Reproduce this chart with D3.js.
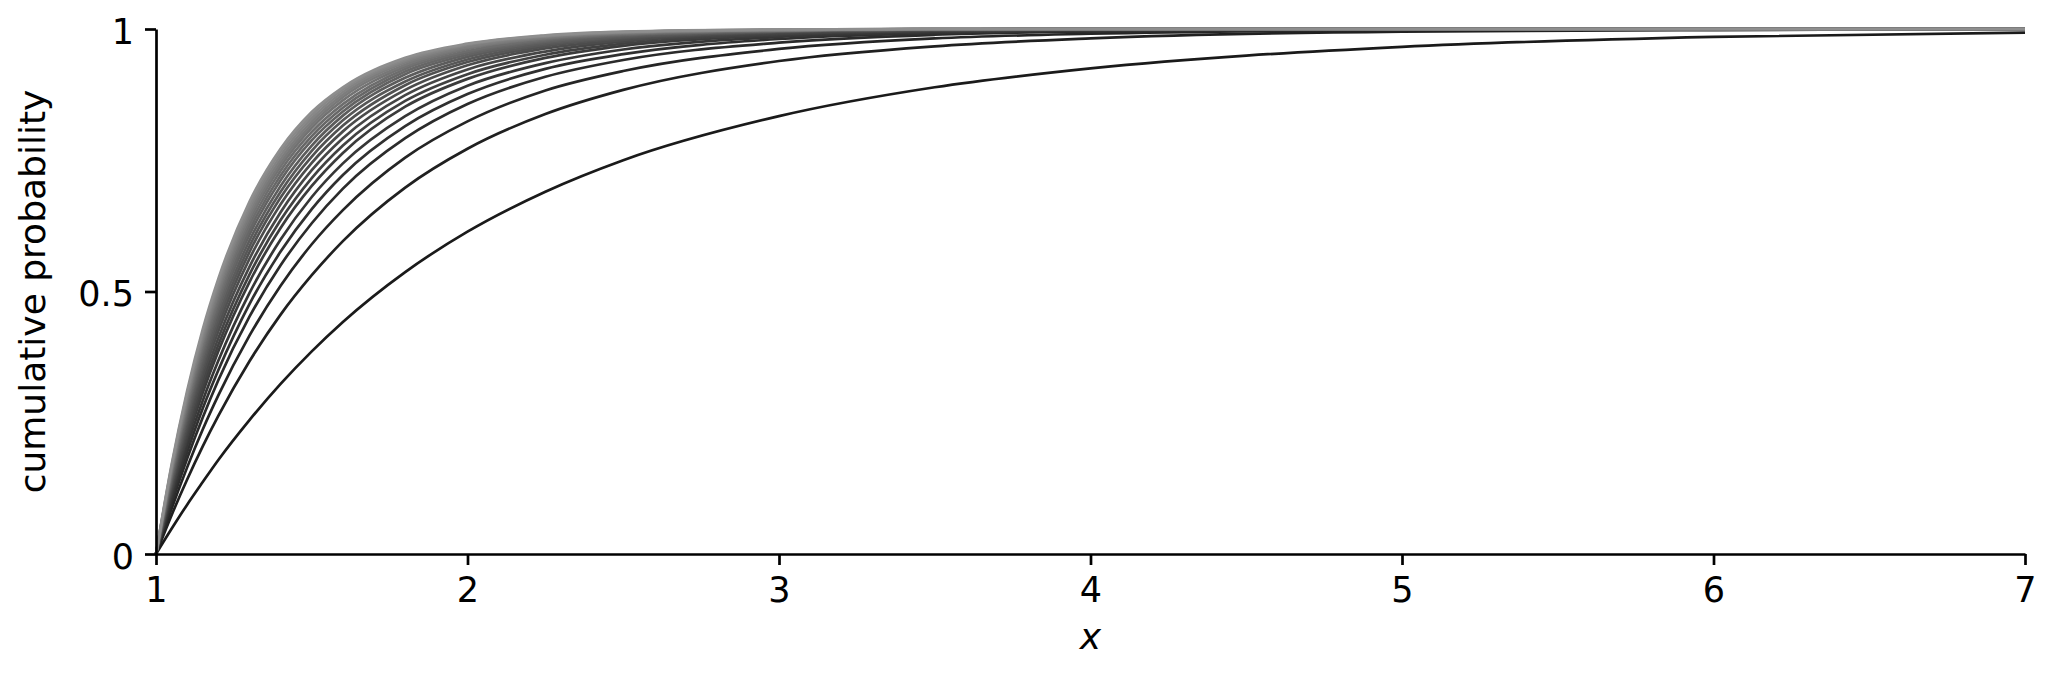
<!DOCTYPE html>
<html>
<head>
<meta charset="utf-8">
<script src="https://cdn.jsdelivr.net/npm/d3@7/dist/d3.min.js"></script>
<style>
  body { margin: 0; background: #fff; }
  text { font-family: "DejaVu Sans", sans-serif; }
</style>
</head>
<body>
<svg id="chart" width="2052" height="673"></svg>
<script>
const xs= [1, 1.05, 1.1, 1.15, 1.2, 1.3, 1.4, 1.5, 1.6, 1.8, 2, 2.25, 2.5, 3, 3.5, 4, 5, 6, 7];

// cumulative probability per curve, darkest (slowest) first
const curves= [
  [0, .048, .094, .137, .179, .255, .324, .386, .442, .537, .614, .690, .750, .834, .889, .925, .966, .985, .993],
  [0, .074, .142, .205, .263, .367, .456, .531, .596, .698, .772, .838, .884, .939, .967, .982, .995, .998, 1],
  [0, .086, .165, .237, .302, .416, .511, .590, .655, .755, .824, .883, .920, .962, .982, .991, .998, 1, 1],
  [0, .096, .182, .260, .331, .452, .550, .630, .696, .792, .857, .909, .941, .974, .989, .995, .999, 1, 1],
  [0, .102, .194, .277, .350, .476, .576, .657, .722, .815, .876, .924, .952, .981, .992, .997, .999, 1, 1],
  [0, .109, .206, .292, .368, .497, .599, .680, .744, .834, .892, .935, .961, .985, .994, .998, 1, 1, 1],
  [0, .115, .217, .307, .386, .518, .621, .701, .764, .852, .905, .945, .968, .988, .996, .998, 1, 1, 1],
  [0, .119, .224, .317, .398, .532, .636, .716, .778, .863, .914, .951, .972, .990, .997, .999, 1, 1, 1],
  [0, .124, .233, .328, .411, .547, .651, .731, .792, .874, .923, .957, .976, .992, .997, .999, 1, 1, 1],
  [0, .129, .241, .339, .424, .562, .666, .745, .805, .884, .931, .963, .979, .994, .998, 1, 1, 1, 1],
  [0, .133, .249, .349, .435, .575, .679, .757, .816, .893, .937, .967, .982, .995, .999, 1, 1, 1, 1],
  [0, .137, .256, .358, .445, .586, .690, .768, .826, .900, .942, .970, .984, .995, .999, 1, 1, 1, 1],
  [0, .141, .262, .366, .455, .597, .701, .778, .835, .907, .947, .973, .986, .996, .999, 1, 1, 1, 1],
  [0, .145, .269, .375, .465, .608, .712, .788, .843, .914, .951, .976, .988, .996, .999, 1, 1, 1, 1],
  [0, .148, .275, .382, .473, .617, .721, .796, .850, .919, .955, .978, .989, .997, 1, 1, 1, 1, 1],
  [0, .152, .280, .390, .482, .626, .730, .804, .857, .924, .958, .980, .990, .997, 1, 1, 1, 1, 1],
  [0, .155, .286, .397, .490, .635, .738, .812, .864, .928, .962, .982, .991, .998, 1, 1, 1, 1, 1],
  [0, .158, .291, .403, .497, .642, .745, .818, .870, .932, .964, .983, .992, .998, 1, 1, 1, 1, 1],
  [0, .161, .296, .409, .504, .650, .752, .824, .875, .936, .966, .985, .993, .998, 1, 1, 1, 1, 1],
  [0, .164, .301, .416, .511, .657, .759, .830, .880, .939, .969, .986, .994, .998, 1, 1, 1, 1, 1],
  [0, .167, .306, .422, .518, .664, .766, .836, .885, .942, .971, .987, .994, .999, 1, 1, 1, 1, 1],
  [0, .170, .311, .428, .524, .671, .772, .842, .889, .945, .972, .988, .995, .999, 1, 1, 1, 1, 1]
];

const xTicks= [1, 2, 3, 4, 5, 6, 7];
const yTicks= [0, 0.5, 1];
const yTickLabels= ['0', '0.5', '1'];

const W= 2052, H= 673;
const svg= d3.select('#chart');
svg.append('rect').attr('width', W).attr('height', H).attr('fill', '#fff');

const x= d3.scaleLinear().domain([1, 7]).range([156, 2025]);
const y= d3.scaleLinear().domain([0, 1]).range([554, 29]);
const shade= d3.scaleLinear().domain([0, curves.length-1]).range(['#1a1a1a', '#8e8e8e']);

const line= d3.line()
  .x((_, i) => x(xs[i]))
  .y(v => y(v))
  .curve(d3.curveMonotoneX);

svg.append('g').selectAll('path')
  .data(curves)
  .join('path')
  .attr('d', line)
  .attr('fill', 'none')
  .attr('stroke', (_, i) => shade(i))
  .attr('stroke-width', 2.7);

const xAxis= svg.append('g')
  .attr('transform', `translate(0,${y(0)})`)
  .call(d3.axisBottom(x).tickValues(xTicks).tickFormat(d3.format('d'))
    .tickSize(11).tickSizeOuter(0).tickPadding(12.5));

const yAxis= svg.append('g')
  .attr('transform', `translate(${x(1)},0)`)
  .call(d3.axisLeft(y).tickValues(yTicks).tickFormat((_, i) => yTickLabels[i])
    .tickSize(11).tickSizeOuter(0).tickPadding(11));

[xAxis, yAxis].forEach(g => {
  g.select('.domain').attr('stroke', '#000').attr('stroke-width', 2.7);
  g.selectAll('.tick line').attr('stroke', '#000').attr('stroke-width', 2.7);
  g.selectAll('.tick text')
    .attr('fill', '#000')
    .style('font-family', '"DejaVu Sans", sans-serif')
    .style('font-size', '35px');
});
yAxis.selectAll('.tick text').attr('dy', '0.4em');

svg.append('text')
  .attr('transform', `translate(45,${(y(0)+y(1))/2}) rotate(-90)`)
  .attr('text-anchor', 'middle')
  .style('font-size', '36px')
  .text('cumulative probability');

svg.append('text')
  .attr('x', (x(1)+x(7))/2)
  .attr('y', 649)
  .attr('text-anchor', 'middle')
  .style('font-size', '36px')
  .style('font-style', 'italic')
  .text('x');
</script>
</body>
</html>
